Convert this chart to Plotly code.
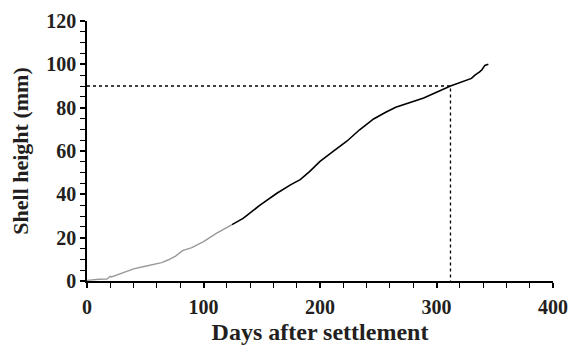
import plotly.graph_objects as go

# Early (grey) growth phase
early_days = [0, 5, 10, 17, 20, 21, 30, 40, 50, 64, 70, 76, 82, 90, 100, 111, 124.5]
early_mm = [0.3, 0.6, 0.8, 0.9, 2.2, 1.9, 3.8, 5.6, 6.8, 8.5, 9.8, 11.5, 14.0, 15.4, 18.2, 22.0, 26.0]

# Later (black) growth phase
late_days = [124.5, 134, 148.5, 163, 175, 183, 191, 200, 211, 223, 234, 246, 256, 265,
             289, 312, 330, 333, 337, 339, 341.5, 344.5]
late_mm = [26.0, 28.9, 35.0, 40.5, 44.5, 46.8, 50.5, 55.2, 59.7, 64.5, 69.8, 74.8, 77.8, 80.2,
           84.5, 90.0, 93.5, 95.0, 96.5, 97.5, 99.5, 100.0]

# Reference marker: 90 mm reached at day 312
ref_height = 90
ref_day = 312

x_ticks = [0, 100, 200, 300, 400]
y_ticks = [0, 20, 40, 60, 80, 100, 120]

font_family = "Liberation Serif"
txt = "#231f20"

fig = go.Figure()
fig.add_trace(go.Scatter(x=[0, ref_day, ref_day], y=[ref_height, ref_height, 0],
                         mode="lines", line=dict(color="black", width=1.3, dash="dot"),
                         hoverinfo="skip"))
fig.add_trace(go.Scatter(x=early_days, y=early_mm, mode="lines",
                         line=dict(color="#9a9a9a", width=1.4)))
fig.add_trace(go.Scatter(x=late_days, y=late_mm, mode="lines",
                         line=dict(color="black", width=1.6)))

fig.update_layout(
    width=570, height=345,
    margin=dict(l=87, r=17, t=21, b=64),
    paper_bgcolor="white", plot_bgcolor="white",
    showlegend=False,
    font=dict(family=font_family, color=txt),
)
fig.update_xaxes(
    range=[0, 400], tickvals=x_ticks, ticktext=[f"<b>{v}</b>" for v in x_ticks],
    automargin=False,
    showgrid=False, zeroline=False,
    showline=True, linecolor="black", linewidth=1.5,
    ticks="outside", ticklen=5, tickwidth=1.5, tickcolor="black",
    ticklabelstandoff=2,
    minor=dict(dtick=20, ticks="outside", ticklen=5, tickwidth=1.2, tickcolor="black", showgrid=False),
    tickfont=dict(family=font_family, size=20, color=txt, weight="bold"),
    title=dict(text="<b>Days after settlement</b>", font=dict(family=font_family, size=24, color=txt),
               standoff=6),
)
fig.update_yaxes(
    range=[0, 120], tickvals=y_ticks, ticktext=[f"<b>{v}</b>" for v in y_ticks],
    automargin=False,
    showgrid=False, zeroline=False,
    showline=True, linecolor="black", linewidth=1.5,
    ticks="outside", ticklen=5, tickwidth=1.5, tickcolor="black",
    minor=dict(dtick=5, ticks="outside", ticklen=5, tickwidth=1.2, tickcolor="black", showgrid=False),
    tickfont=dict(family=font_family, size=20, color=txt, weight="bold"),
    title=dict(text="<b>Shell height (mm)</b>", font=dict(family=font_family, size=22, color=txt),
               standoff=12),
)

fig.write_html("out.html", config={"displayModeBar": False})

# remove the default page margin so the figure sits at the window's top-left corner
with open("out.html", "r", encoding="utf-8") as f:
    html = f.read()
html = html.replace("<head>", "<head><style>html,body{margin:0;padding:0;}</style>", 1)
with open("out.html", "w", encoding="utf-8") as f:
    f.write(html)
